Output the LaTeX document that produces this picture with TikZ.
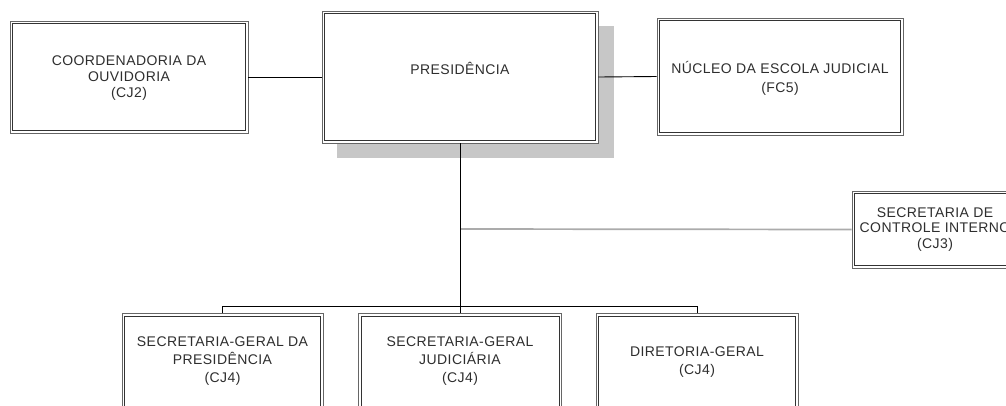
\documentclass[tikz,border=0pt]{standalone}
\usepackage{fontspec}
\newfontfamily\boxfont{Liberation Sans}[LetterSpace=3]
\begin{document}
\begin{tikzpicture}[x=1pt,y=-1pt,
  orgbox/.style={draw=black!60, line width=0.8pt,
    fill=white, inner sep=0pt,
    path picture={\draw[black!80, line width=0.8pt]
      ([shift={(2.6pt,-2.6pt)}]path picture bounding box.north west) rectangle
      ([shift={(-2.6pt,2.6pt)}]path picture bounding box.south east);}},
  conn/.style={draw=black, line width=0.9pt},
  greyconn/.style={draw=black!33, line width=1.7pt},
  txt/.style={inner sep=0pt, align=center, text=black!82, font=\boxfont\fontsize{14}{15.7}\selectfont},
  lowtxt/.style={txt, font=\boxfont\fontsize{14}{18}\selectfont}]
\useasboundingbox (0,0) rectangle (1006,405);
\clip (0,0) rectangle (1006,405);
\fill[white] (0,0) rectangle (1006,405);

% shadow of presidencia
\fill[black!22] (337,26) rectangle (614,158);

% top row
\node[orgbox, minimum width=238pt, minimum height=112pt] (coord) at (129,77) {};
\node[txt] (coordtxt) at (129,78) {COORDENADORIA DA\\OUVIDORIA\\(CJ2)};
\node[orgbox, minimum width=276pt, minimum height=132pt] (pres) at (460,77) {};
\node[txt] (prestxt) at (460,68) {PRESIDÊNCIA};
\node[orgbox, minimum width=246pt, minimum height=117pt] (nucleo) at (780,76.5) {};
\node[txt, font=\boxfont\fontsize{14}{19}\selectfont] (nucleotxt) at (780,78)
  {NÚCLEO DA ESCOLA JUDICIAL\\(FC5)};

% secretaria de controle interno
\node[orgbox, minimum width=166pt, minimum height=77pt] (sci) at (935,229.5) {};
\node[txt] (scitxt) at (935,229.5) {SECRETARIA DE\\CONTROLE INTERNO\\(CJ3)};

% bottom row (cut at the image edge)
\node[orgbox, minimum width=201pt, minimum height=140pt, anchor=north] (sgp) at (222.5,313) {};
\node[orgbox, minimum width=203pt, minimum height=140pt, anchor=north] (sgj) at (460,313) {};
\node[orgbox, minimum width=202pt, minimum height=140pt, anchor=north] (dg) at (697,313) {};
\node[lowtxt] (sgptxt) at (222.5,361) {SECRETARIA-GERAL DA\\PRESIDÊNCIA\\(CJ4)};
\node[lowtxt] (sgjtxt) at (460,361) {SECRETARIA-GERAL\\JUDICIÁRIA\\(CJ4)};
\node[lowtxt] (dgtxt) at (697,362) {DIRETORIA-GERAL\\(CJ4)};

% connectors
\coordinate (bus) at (460,306);
\coordinate (tap) at (460,229);
\draw[conn] (coord.east) -- (pres.west);
\draw[conn] (pres.east) -- (nucleo.west);
\draw[greyconn] (tap) -- (sci.west);
\draw[conn] (pres.south) -- (sgj.north);
\draw[conn] (sgp.north) -- (sgp.north |- bus) -- (dg.north |- bus) -- (dg.north);
\end{tikzpicture}
\end{document}
